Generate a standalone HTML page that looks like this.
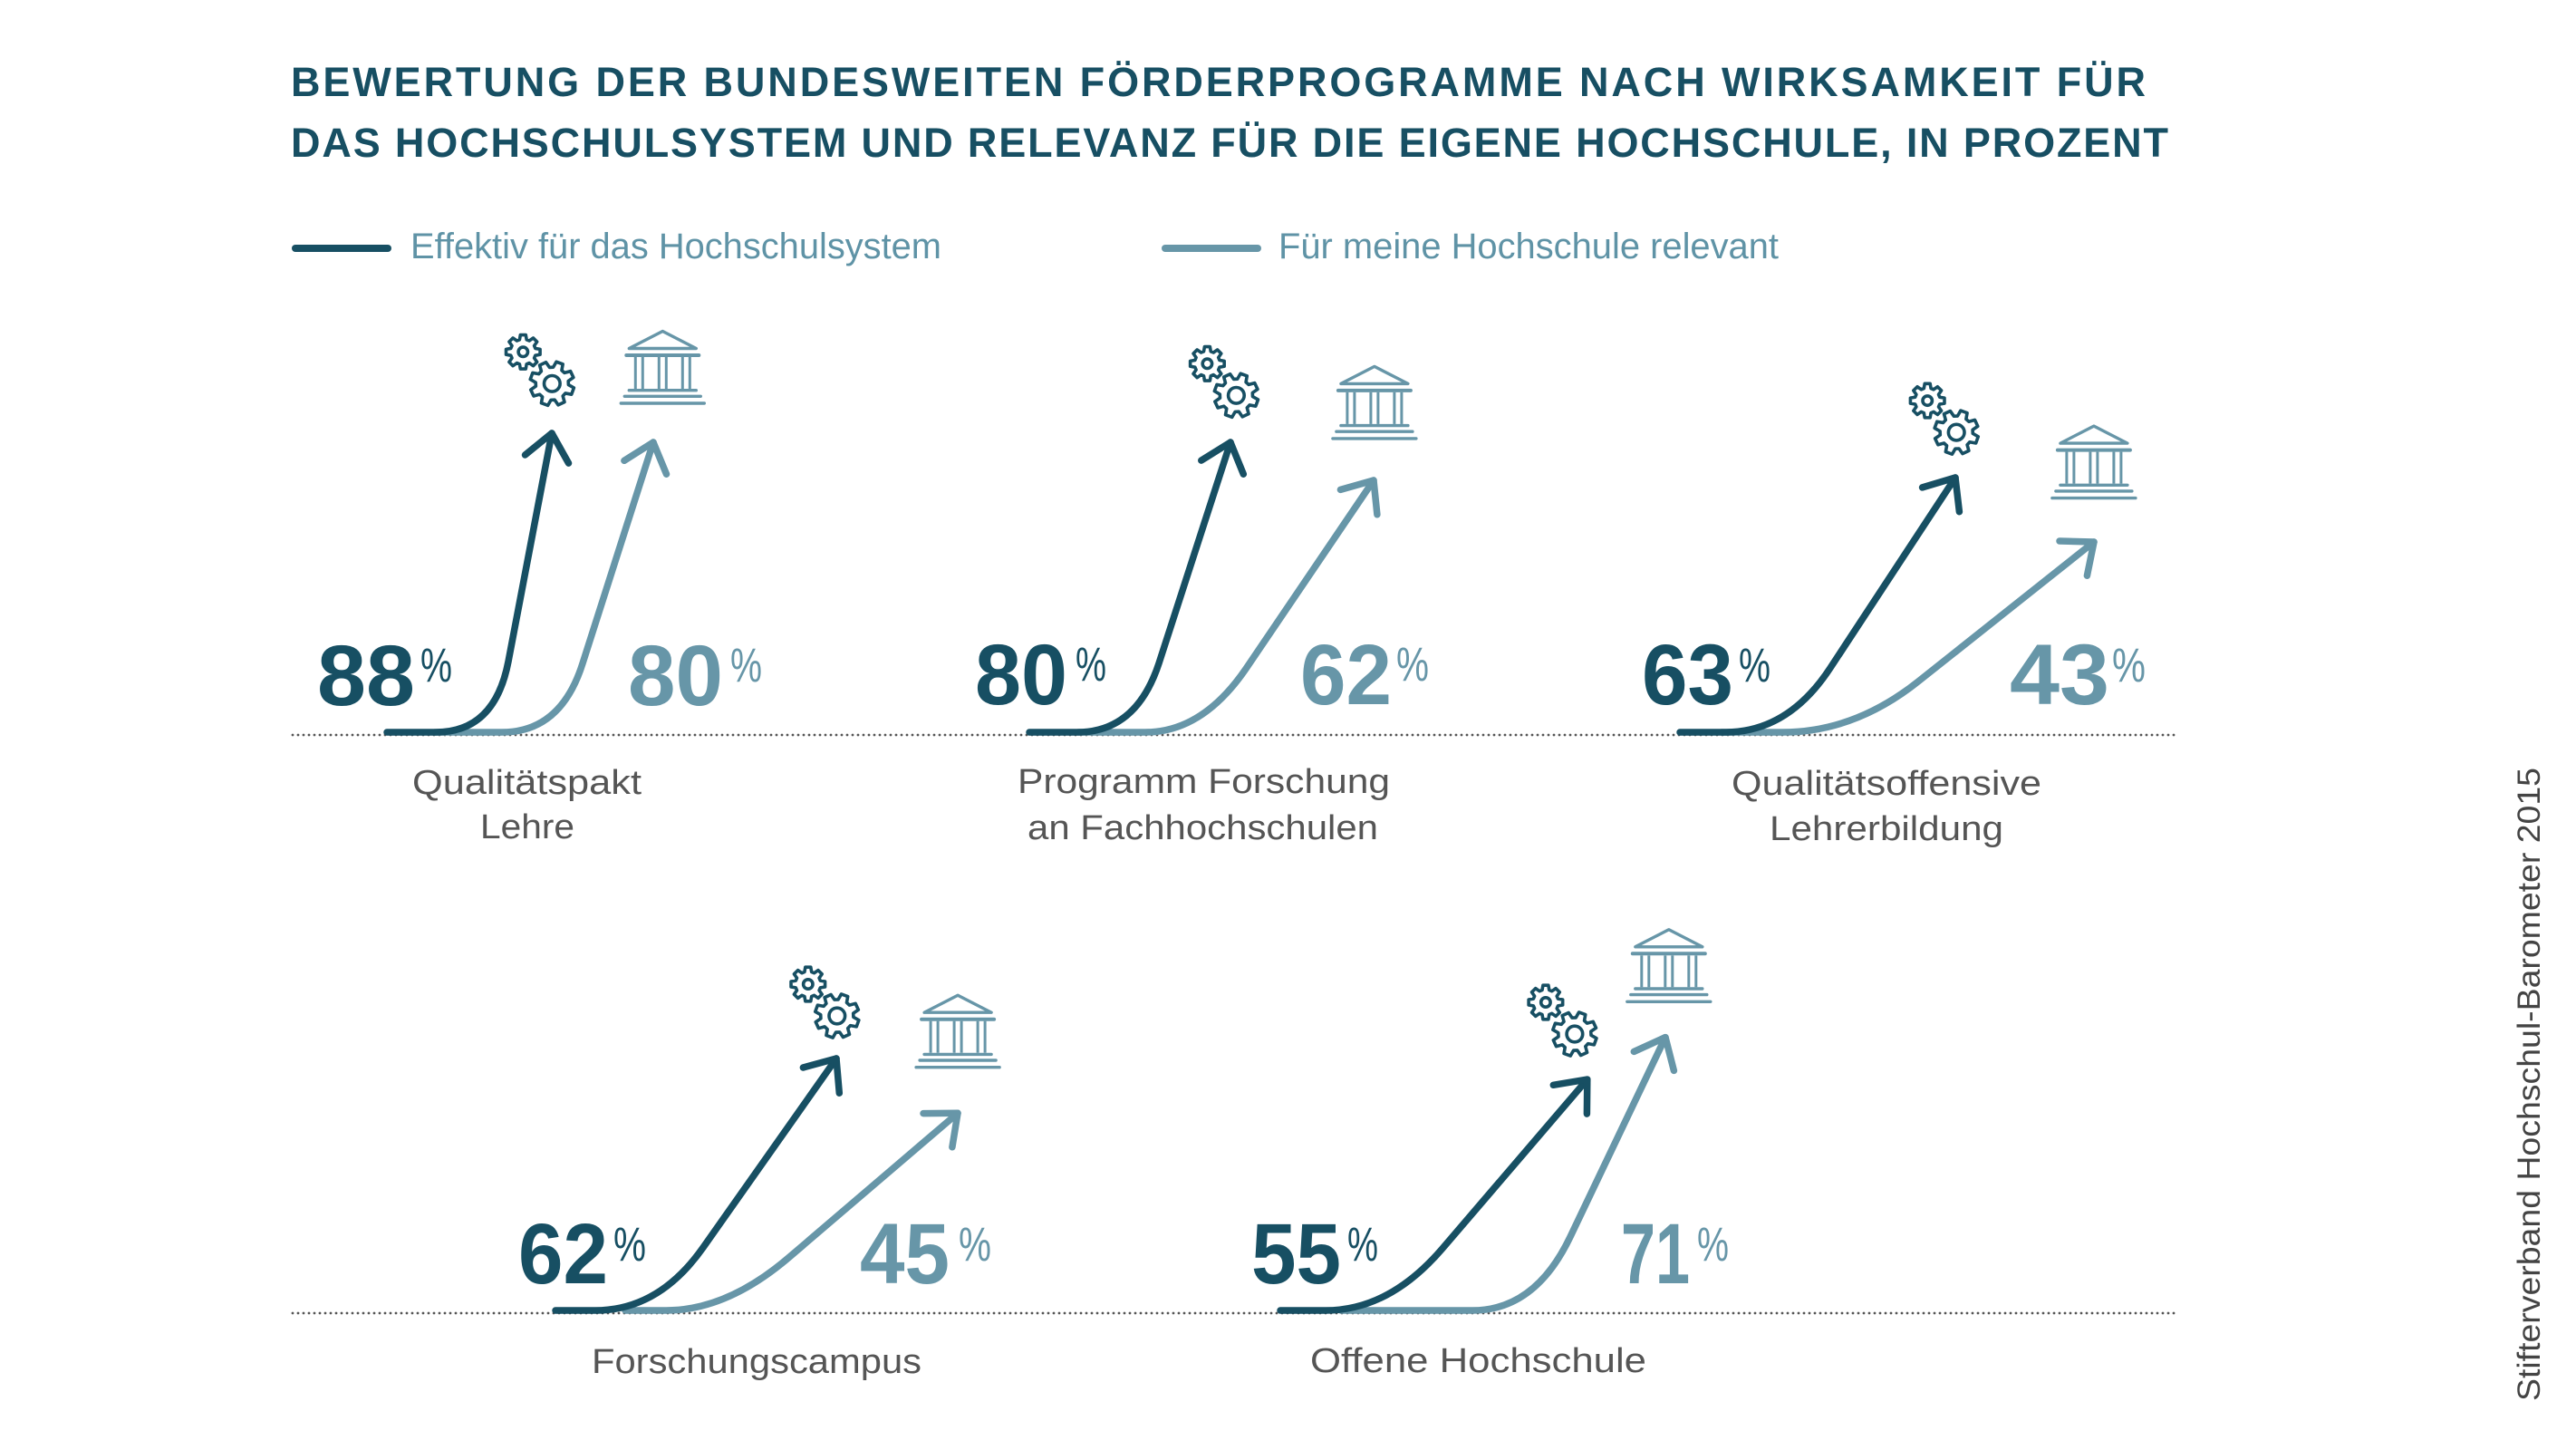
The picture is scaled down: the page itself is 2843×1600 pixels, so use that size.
<!DOCTYPE html>
<html>
<head>
<meta charset="utf-8">
<style>
html,body{margin:0;padding:0;background:#fff;}
svg{display:block;}
.t{font-family:"Liberation Sans",sans-serif;}
</style>
</head>
<body>
<svg width="2843" height="1600" viewBox="0 0 2843 1600" xmlns="http://www.w3.org/2000/svg">
<defs>
<polygon id="gearp" points="71.1,-20.4 98.8,-15.6 98.8,15.6 71.1,20.4 64.7,35.9 80.9,58.8 58.8,80.9 35.9,64.7 20.4,71.1 15.6,98.8 -15.6,98.8 -20.4,71.1 -35.9,64.7 -58.8,80.9 -80.9,58.8 -64.7,35.9 -71.1,20.4 -98.8,15.6 -98.8,-15.6 -71.1,-20.4 -64.7,-35.9 -80.9,-58.8 -58.8,-80.9 -35.9,-64.7 -20.4,-71.1 -15.6,-98.8 15.6,-98.8 20.4,-71.1 35.9,-64.7 58.8,-80.9 80.9,-58.8 64.7,-35.9"/>
<g id="gears" fill="none" stroke="#174f63" stroke-width="3.6" stroke-linejoin="round">
  <use href="#gearp" transform="scale(0.19)" style="stroke-width:18.9"/>
  <circle cx="0" cy="0" r="5.2"/>
  <use href="#gearp" transform="translate(32,35) rotate(20) scale(0.245)" style="stroke-width:14.7"/>
  <circle cx="32" cy="35" r="8.8"/>
</g>
<g id="bldg" fill="none" stroke="#6796a8" stroke-linecap="butt">
  <polygon points="-37,20.5 0,1.5 37,20.5" stroke-width="3.4" stroke-linejoin="round"/>
  <line x1="-40" y1="28" x2="40" y2="28" stroke-width="4" stroke-linecap="round"/>
  <line x1="-30" y1="30" x2="-30" y2="65" stroke-width="3"/>
  <line x1="-22" y1="30" x2="-22" y2="65" stroke-width="3"/>
  <line x1="-4" y1="30" x2="-4" y2="65" stroke-width="3"/>
  <line x1="4" y1="30" x2="4" y2="65" stroke-width="3"/>
  <line x1="22" y1="30" x2="22" y2="65" stroke-width="3"/>
  <line x1="30" y1="30" x2="30" y2="65" stroke-width="3"/>
  <line x1="-37" y1="66.7" x2="37" y2="66.7" stroke-width="3.4" stroke-linecap="round"/>
  <line x1="-42" y1="73.3" x2="42" y2="73.3" stroke-width="3.4" stroke-linecap="round"/>
  <line x1="-46" y1="81" x2="46" y2="81" stroke-width="3.4" stroke-linecap="round"/>
</g>
</defs>

<rect x="0" y="0" width="2843" height="1600" fill="#ffffff"/>

<!-- Title -->
<text class="t" x="321" y="106" font-size="45" font-weight="bold" fill="#174f63" textLength="2047" lengthAdjust="spacing">BEWERTUNG DER BUNDESWEITEN FÖRDERPROGRAMME NACH WIRKSAMKEIT FÜR</text>
<text class="t" x="321" y="173" font-size="45" font-weight="bold" fill="#174f63" textLength="2072" lengthAdjust="spacing">DAS HOCHSCHULSYSTEM UND RELEVANZ FÜR DIE EIGENE HOCHSCHULE, IN PROZENT</text>

<!-- Legend -->
<line x1="326" y1="274" x2="428" y2="274" stroke="#174f63" stroke-width="8" stroke-linecap="round"/>
<text class="t" x="453" y="285" font-size="40" fill="#5f93a6" textLength="586" lengthAdjust="spacingAndGlyphs">Effektiv für das Hochschulsystem</text>
<line x1="1286" y1="274" x2="1388" y2="274" stroke="#6796a8" stroke-width="8" stroke-linecap="round"/>
<text class="t" x="1411" y="285" font-size="40" fill="#5f93a6" textLength="552" lengthAdjust="spacingAndGlyphs">Für meine Hochschule relevant</text>

<!-- Dotted baselines -->
<line x1="323" y1="811" x2="2403" y2="811" stroke="#555" stroke-width="2.8" stroke-linecap="round" stroke-dasharray="0 6"/>
<line x1="323" y1="1449" x2="2403" y2="1449" stroke="#555" stroke-width="2.8" stroke-linecap="round" stroke-dasharray="0 6"/>

<!-- Arrows -->
<g fill="none" stroke-width="7.5" stroke-linecap="round" stroke-linejoin="round">
  <!-- G1 -->
  <path d="M480,808 L554,808 Q619,808 643,732 L721,488" stroke="#6796a8"/>
  <path d="M688.9,508.3 L721,488 L735.5,523.2" stroke="#6796a8"/>
  <path d="M427,808 L481,808 Q546,808 561,730 L609,478" stroke="#174f63"/>
  <path d="M579.5,502 L609,478 L627.5,511.1" stroke="#174f63"/>
  <!-- G2 -->
  <path d="M1190,808 L1264,808 Q1327,808 1375,738 L1516,530" stroke="#6796a8"/>
  <path d="M1479.4,540.4 L1516,530 L1519.9,567.8" stroke="#6796a8"/>
  <path d="M1136,808 L1189,808 Q1254,808 1279,732 L1358,488" stroke="#174f63"/>
  <path d="M1325.8,508.1 L1358,488 L1372.3,523.2" stroke="#174f63"/>
  <!-- G3 -->
  <path d="M1900,808 L1967,808 Q2046.6,808 2117,752 L2311,598" stroke="#6796a8"/>
  <path d="M2273,597 L2311,598 L2303.4,635.2" stroke="#6796a8"/>
  <path d="M1854,808 L1904,808 Q1973.5,808 2020,737 L2158,527" stroke="#174f63"/>
  <path d="M2121.6,537.9 L2158,527 L2162.4,564.7" stroke="#174f63"/>
  <!-- G4 -->
  <path d="M690,1446 L735,1446 Q802.3,1446 870.7,1387.5 L1057,1228.3" stroke="#6796a8"/>
  <path d="M1019,1228.6 L1057,1228.3 L1050.9,1265.8" stroke="#6796a8"/>
  <path d="M613,1446 L657,1446 Q727,1446 776,1376.6 L923,1168" stroke="#174f63"/>
  <path d="M886.4,1178 L923,1168 L926.3,1206.2" stroke="#174f63"/>
  <!-- G5 -->
  <path d="M1480,1446 L1625,1446 Q1694.2,1446 1733,1364.8 L1838,1144.6" stroke="#6796a8"/>
  <path d="M1803.3,1160.4 L1838,1144.6 L1847.4,1181.4" stroke="#6796a8"/>
  <path d="M1413,1446 L1463,1446 Q1533.3,1446 1591.9,1377.7 L1751.8,1191.1" stroke="#174f63"/>
  <path d="M1714.3,1197.3 L1751.8,1191.1 L1751.4,1229.1" stroke="#174f63"/>
</g>

<!-- Icons -->
<use href="#gears" transform="translate(577.3,388.3)"/>
<use href="#gears" transform="translate(1332.4,401.3)"/>
<use href="#gears" transform="translate(2127.2,442.1)"/>
<use href="#gears" transform="translate(891.8,1086)"/>
<use href="#gears" transform="translate(1705.9,1106)"/>

<use href="#bldg" transform="translate(731.3,364)"/>
<use href="#bldg" transform="translate(1516.9,402.9)"/>
<use href="#bldg" transform="translate(2310.9,468.6)"/>
<use href="#bldg" transform="translate(1057.1,1096.7)"/>
<use href="#bldg" transform="translate(1841.8,1024.3)"/>

<!-- Numbers -->
<g class="t" font-weight="bold" font-size="95">
  <text x="350" y="778" fill="#174f63" textLength="108" lengthAdjust="spacingAndGlyphs">88</text>
  <text x="693" y="778" fill="#6796a8" textLength="105" lengthAdjust="spacingAndGlyphs">80</text>
  <text x="1076" y="777" fill="#174f63" textLength="102" lengthAdjust="spacingAndGlyphs">80</text>
  <text x="1435" y="777" fill="#6796a8" textLength="101" lengthAdjust="spacingAndGlyphs">62</text>
  <text x="1812" y="777" fill="#174f63" textLength="101" lengthAdjust="spacingAndGlyphs">63</text>
  <text x="2218" y="777" fill="#6796a8" textLength="110" lengthAdjust="spacingAndGlyphs">43</text>
  <text x="572" y="1416" fill="#174f63" textLength="99" lengthAdjust="spacingAndGlyphs">62</text>
  <text x="949" y="1416" fill="#6796a8" textLength="99" lengthAdjust="spacingAndGlyphs">45</text>
  <text x="1381" y="1416" fill="#174f63" textLength="99" lengthAdjust="spacingAndGlyphs">55</text>
  <text x="1789" y="1416" fill="#6796a8" textLength="76" lengthAdjust="spacingAndGlyphs">71</text>
</g>
<g class="t" font-size="53">
  <text x="464" y="752" fill="#174f63" textLength="35" lengthAdjust="spacingAndGlyphs">%</text>
  <text x="806" y="752" fill="#6796a8" textLength="35" lengthAdjust="spacingAndGlyphs">%</text>
  <text x="1187" y="751" fill="#174f63" textLength="34" lengthAdjust="spacingAndGlyphs">%</text>
  <text x="1541" y="751" fill="#6796a8" textLength="36" lengthAdjust="spacingAndGlyphs">%</text>
  <text x="1919" y="752" fill="#174f63" textLength="35" lengthAdjust="spacingAndGlyphs">%</text>
  <text x="2331" y="752" fill="#6796a8" textLength="37" lengthAdjust="spacingAndGlyphs">%</text>
  <text x="677" y="1391" fill="#174f63" textLength="36" lengthAdjust="spacingAndGlyphs">%</text>
  <text x="1058" y="1391" fill="#6796a8" textLength="36" lengthAdjust="spacingAndGlyphs">%</text>
  <text x="1487" y="1391" fill="#174f63" textLength="34" lengthAdjust="spacingAndGlyphs">%</text>
  <text x="1873" y="1391" fill="#6796a8" textLength="35" lengthAdjust="spacingAndGlyphs">%</text>
</g>

<!-- Labels -->
<g class="t" font-size="38" fill="#555">
  <text x="455" y="876" textLength="253" lengthAdjust="spacingAndGlyphs">Qualitätspakt</text>
  <text x="530" y="925" textLength="104" lengthAdjust="spacingAndGlyphs">Lehre</text>
  <text x="1123" y="875" textLength="411" lengthAdjust="spacingAndGlyphs">Programm Forschung</text>
  <text x="1134" y="926" textLength="387" lengthAdjust="spacingAndGlyphs">an Fachhochschulen</text>
  <text x="1911" y="877" textLength="342" lengthAdjust="spacingAndGlyphs">Qualitätsoffensive</text>
  <text x="1953" y="927" textLength="258" lengthAdjust="spacingAndGlyphs">Lehrerbildung</text>
  <text x="653" y="1515" textLength="364" lengthAdjust="spacingAndGlyphs">Forschungscampus</text>
  <text x="1446" y="1514" textLength="371" lengthAdjust="spacingAndGlyphs">Offene Hochschule</text>
</g>

<!-- Source credit -->
<text class="t" font-size="35" fill="#444" transform="translate(2803,1546) rotate(-90)" textLength="699" lengthAdjust="spacingAndGlyphs">Stifterverband Hochschul-Barometer 2015</text>
</svg>
</body>
</html>
